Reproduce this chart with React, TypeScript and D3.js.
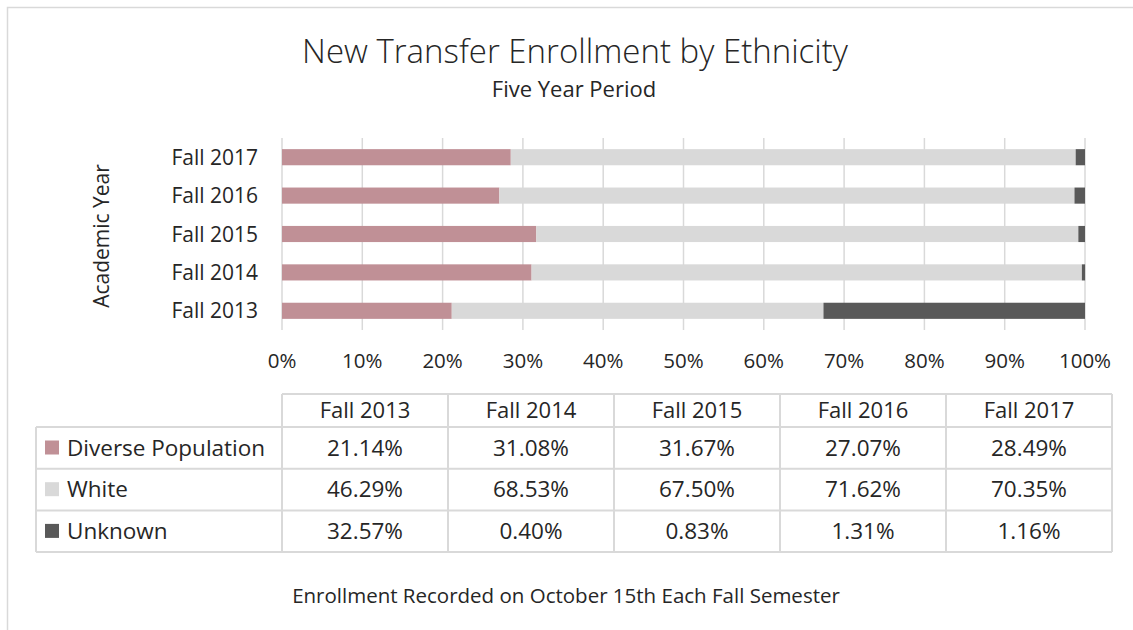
import React from "react";
import * as d3 from "d3";

const categories = ["Fall 2013", "Fall 2014", "Fall 2015", "Fall 2016", "Fall 2017"];
const seriesNames = ["Diverse Population", "White", "Unknown"];
const diverse = [21.14, 31.08, 31.67, 27.07, 28.49];
const white = [46.29, 68.53, 67.5, 71.62, 70.35];
const unknown = [32.57, 0.4, 0.83, 1.31, 1.16];
const colors = ["#C09096", "#D9D9D9", "#595959"];
const xTicks = [0, 10, 20, 30, 40, 50, 60, 70, 80, 90, 100];

const font = "'Open Sans', 'Noto Sans', sans-serif";
const textColor = "#262626";

export default function App() {
  const W = 1133, H = 630;
  const x = d3.scaleLinear().domain([0, 100]).range([282, 1085]);
  const y = d3.scaleBand().domain([...categories].reverse()).range([138, 330]).paddingInner(0.58).paddingOuter(0.29);
  const seriesVals = [diverse, white, unknown];
  const rows = categories.map((c, i) => ({ cat: c, d: diverse[i], w: white[i], u: unknown[i] }));
  const stack = d3.stack<any>().keys(["d", "w", "u"])(rows);

  const colX = d3.scaleBand().domain(categories).range([282, 1112]);
  const tableTop = 394, headerH = 33, rowH = 41.7;
  const rowY = (r: number) => tableTop + headerH + r * rowH;
  const fmt = (v: number) => v.toFixed(2) + "%";
  const border = "#D9D9D9";

  return (
    <svg width={W} height={H} style={{ position: "absolute", left: 0, top: 0 }} fontFamily={font}>
      <rect x={0} y={0} width={W} height={H} fill="#fff" />
      <rect x={7.5} y={7.5} width={W + 10} height={H + 10} fill="none" stroke="#D9D9D9" strokeWidth={1.5} />
      <text x={575} y={63} textAnchor="middle" fontSize={33} fill={textColor} fontWeight={300}>New Transfer Enrollment by Ethnicity</text>
      <text x={574} y={97} textAnchor="middle" fontSize={22} fill={textColor}>Five Year Period</text>

      {xTicks.map((t) => (
        <g key={t}>
          <line x1={x(t)} x2={x(t)} y1={138} y2={330} stroke="#D9D9D9" strokeWidth={1.5} />
          <text x={x(t)} y={368} textAnchor="middle" fontSize={20.5} fill={textColor}>{t}%</text>
        </g>
      ))}

      {stack.map((s, si) => (
        <g key={si} fill={colors[si]}>
          {s.map((d: any, i: number) => (
            <rect key={i} x={x(d[0])} y={y(d.data.cat)!} width={Math.max(0, x(d[1]) - x(d[0]))} height={y.bandwidth()} />
          ))}
        </g>
      ))}

      {categories.map((c) => (
        <text key={c} x={258} y={y(c)! + y.bandwidth() / 2 + 7.5} textAnchor="end" fontSize={21} fill={textColor}>{c}</text>
      ))}
      <text transform="translate(109,236) rotate(-90)" textAnchor="middle" fontSize={21} fill={textColor}>Academic Year</text>

      {/* table */}
      <g stroke={border} strokeWidth={2} fill="none">
        <line x1={282} x2={1112} y1={tableTop} y2={tableTop} />
        {[0, 1, 2, 3].map((r) => (
          <line key={r} x1={36} x2={1112} y1={rowY(r)} y2={rowY(r)} />
        ))}
        <line x1={36} x2={36} y1={rowY(0)} y2={rowY(3)} />
        {categories.map((c) => (
          <line key={c} x1={colX(c)!} x2={colX(c)!} y1={tableTop} y2={rowY(3)} />
        ))}
        <line x1={1112} x2={1112} y1={tableTop} y2={rowY(3)} />
      </g>
      {categories.map((c) => (
        <text key={c} x={colX(c)! + colX.bandwidth() / 2} y={tableTop + 23.5} textAnchor="middle" fontSize={22} fill={textColor}>{c}</text>
      ))}
      {seriesNames.map((n, r) => (
        <g key={n}>
          <rect x={45} y={rowY(r) + 13.5} width={14} height={14} fill={colors[r]} />
          <text x={67} y={rowY(r) + 28.5} fontSize={22.5} fill={textColor}>{n}</text>
          {seriesVals[r].map((v, i) => (
            <text key={i} x={colX(categories[i])! + colX.bandwidth() / 2} y={rowY(r) + 28.5} textAnchor="middle" fontSize={22.5} fill={textColor}>{fmt(v)}</text>
          ))}
        </g>
      ))}
      <text x={566} y={602.5} textAnchor="middle" fontSize={20.5} fill={textColor}>Enrollment Recorded on October 15th Each Fall Semester</text>
    </svg>
  );
}
